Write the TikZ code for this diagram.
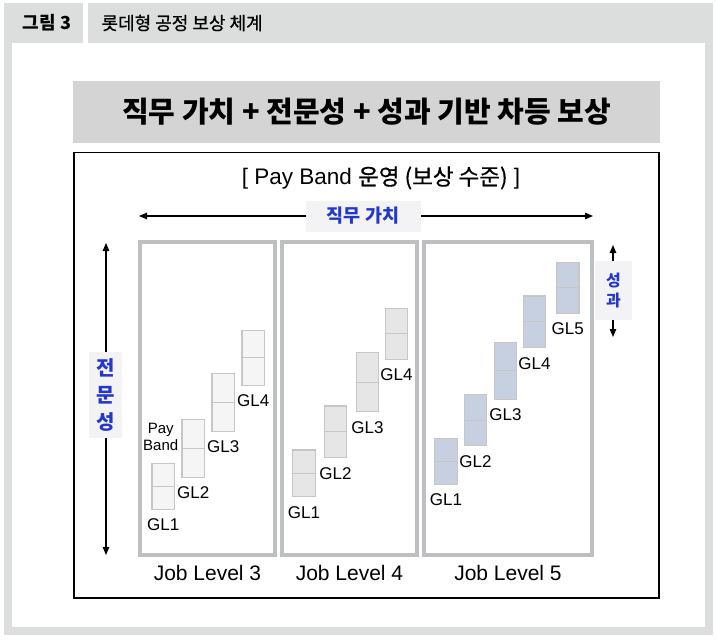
\documentclass[tikz,border=0pt]{standalone}
\usepackage{fontspec}
\setmainfont{Liberation Sans}
\newfontfamily\kr{Noto Sans CJK KR}
\newfontfamily\krmed{Noto Sans CJK KR}[FakeBold=0.6]
\usetikzlibrary{positioning, arrows.meta, shapes}
\definecolor{framegray}{HTML}{DCDDDD}
\definecolor{titlegray}{HTML}{D4D4D4}
\definecolor{levelgray}{HTML}{BEBFC1}
\definecolor{bandline}{HTML}{C6C6C6}
\definecolor{axisblue}{RGB}{35,55,205}
\definecolor{tagfill}{HTML}{F3F3F5}
\definecolor{bandthree}{HTML}{F5F5F5}
\definecolor{bandfour}{HTML}{E6E6E6}
\definecolor{bandfive}{HTML}{C6D0E0}
\tikzstyle{levelbox} = [draw=levelgray, line width=4pt, inner sep=0pt, minimum height=313pt]
\tikzstyle{band} = [draw=bandline, line width=1.2pt, inner sep=0pt, minimum width=22.5pt,
  path picture={\draw[bandline, line width=1pt] (path picture bounding box.west) -- (path picture bounding box.east);}]
\tikzstyle{gl} = [font=\fontsize{17}{20}\selectfont, inner sep=1pt]
\tikzstyle{joblabel} = [font=\fontsize{21}{23}\selectfont, inner sep=1pt]
\tikzstyle{axis} = [line width=1.3pt, {Triangle[length=8pt,width=6.5pt]}-{Triangle[length=8pt,width=6.5pt]}]
\tikzstyle{tag} = [fill=tagfill, text=axisblue, inner sep=0pt, align=center]

\begin{document}
\begin{tikzpicture}[x=1pt, y=-1pt]
  \useasboundingbox (0,0) rectangle (716,642);
  % page frame and caption
  \fill[framegray] (3.5,3.3) rectangle (712.5,635);
  \fill[white] (11.7,43) rectangle (705,627);
  \fill[white] (83,3.3) rectangle (88,43);
  \node[font=\kr\bfseries\fontsize{18}{20}\selectfont] (fignum) at (47,23) {그림 3};
  \node[font=\krmed\fontsize{18}{20}\selectfont, anchor=west] (figtitle) at (98,23) {롯데형 공정 보상 체계};

  \node[fill=titlegray, minimum width=587pt, minimum height=62pt, font=\kr\bfseries\fontsize{29}{32}\selectfont] (headline) at (366.5,112) {직무 가치 + 전문성 + 성과 기반 차등 보상};
  \node[draw, line width=1.2pt, minimum width=585pt, minimum height=445.5pt] (frame) at (366.5,375.25) {};
  \node[font=\fontsize{22.5}{25}\selectfont] (payband) at (381,178) {[ Pay Band {\krmed 운영 (보상 수준)} ]};

  % axes
  \coordinate (valueL) at (139,216);
  \coordinate (valueR) at (593,216);
  \draw[axis] (valueL) -- (valueR);
  \node[tag, minimum width=115pt, minimum height=31pt, font=\kr\bfseries\fontsize{18.5}{20}\selectfont] (value) at (363,216) {직무 가치};
  \coordinate (skillT) at (106,243);
  \coordinate (skillB) at (106,555);
  \draw[axis] (skillT) -- (skillB);
  \node[tag, minimum width=33pt, minimum height=86pt, font=\kr\bfseries\fontsize{20}{26.7}\selectfont] (skill) at (105.5,395) {전\\문\\성};
  \coordinate (perfT) at (613,245);
  \coordinate (perfB) at (613,337);
  \draw[axis] (perfT) -- (perfB);
  \node[tag, minimum width=37pt, minimum height=59pt, font=\kr\bfseries\fontsize{16}{20}\selectfont] (perf) at (613.5,290.5) {성\\과};

  % job levels
  \node[levelbox, minimum width=135pt] (jl3) at (207.5,398.5) {};
  \node[levelbox, minimum width=135pt] (jl4) at (349.5,398.5) {};
  \node[levelbox, minimum width=168pt] (jl5) at (508,398.5) {};
  \node[joblabel, below=7pt of jl3] (jl3label) {Job Level 3};
  \node[joblabel, below=7pt of jl4] (jl4label) {Job Level 4};
  \node[joblabel, below=7pt of jl5] (jl5label) {Job Level 5};

  % pay bands, level 3
  \node[band, fill=bandthree, minimum height=46pt] (b31) at (163.3,486.3) {};
  \node[band, fill=bandthree, minimum height=58pt] (b32) at (193.3,448.3) {};
  \node[band, fill=bandthree, minimum height=58pt] (b33) at (223.3,402.3) {};
  \node[band, fill=bandthree, minimum height=55pt] (b34) at (253.3,357.7) {};
  \node[gl, below=8pt of b31] (g31) {GL1};
  \node[gl, below=8pt of b32] (g32) {GL2};
  \node[gl, below=8pt of b33] (g33) {GL3};
  \node[gl, below=8pt of b34] (g34) {GL4};
  \node[font=\fontsize{15}{17}\selectfont, align=center, inner sep=1pt, left=2pt of b32, yshift=11pt] (bandnote) {Pay\\Band};

  % pay bands, level 4
  \node[band, fill=bandfour, minimum height=46.5pt] (b41) at (304,473.3) {};
  \node[band, fill=bandfour, minimum height=51.5pt] (b42) at (335.5,431.7) {};
  \node[band, fill=bandfour, minimum height=59pt] (b43) at (367.5,382) {};
  \node[band, fill=bandfour, minimum height=51pt] (b44) at (396.5,333.8) {};
  \node[gl, below=8pt of b41] (g41) {GL1};
  \node[gl, below=8pt of b42] (g42) {GL2};
  \node[gl, below=8pt of b43] (g43) {GL3};
  \node[gl, below=8pt of b44] (g44) {GL4};

  % pay bands, level 5
  \node[band, fill=bandfive, minimum height=46pt] (b51) at (446,461.3) {};
  \node[band, fill=bandfive, minimum height=51.5pt] (b52) at (475.5,420) {};
  \node[band, fill=bandfive, minimum height=57pt] (b53) at (505.5,370.8) {};
  \node[band, fill=bandfive, minimum height=51.5pt] (b54) at (534.5,321.8) {};
  \node[band, fill=bandfive, minimum height=51pt] (b55) at (567.7,287.8) {};
  \node[gl, below=8pt of b51] (g51) {GL1};
  \node[gl, below=8pt of b52] (g52) {GL2};
  \node[gl, below=8pt of b53] (g53) {GL3};
  \node[gl, below=8pt of b54] (g54) {GL4};
  \node[gl, below=8pt of b55] (g55) {GL5};
\end{tikzpicture}
\end{document}
